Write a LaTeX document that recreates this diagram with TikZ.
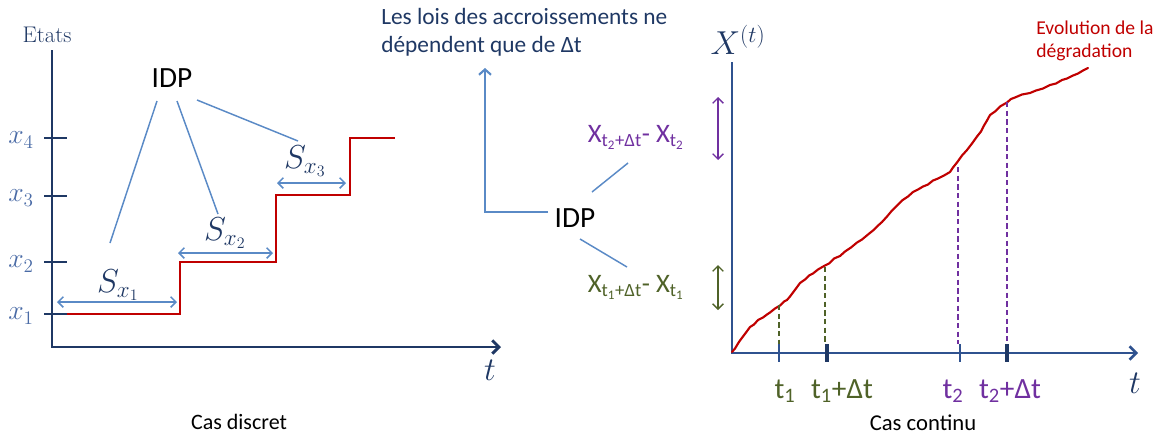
\documentclass[tikz,border=0pt]{standalone}
\usepackage[no-math]{fontspec}
\usepackage{amsmath}
\newfontfamily\cali{Carlito}
\usetikzlibrary{arrows.meta}
\definecolor{navy}{HTML}{1F3864}
\definecolor{axisb}{HTML}{2F528F}
\definecolor{lblue}{HTML}{5A8AC6}
\definecolor{xlab}{HTML}{4A6BA6}
\definecolor{dred}{HTML}{C00000}
\definecolor{purp}{HTML}{7030A0}
\definecolor{olive}{HTML}{4F6228}
\newcommand{\fsz}[1]{\fontsize{#1}{1.2\dimexpr #1pt\relax}\selectfont}
\tikzset{
  axarrow/.style={line width=2.2pt,-{Straight Barb[length=5pt,width=10pt]}},
  dblarrow/.style={lblue,line width=1.1pt,{Straight Barb[length=4pt,width=8pt]}-{Straight Barb[length=4pt,width=8pt]}},
  idpline/.style={lblue,line width=1.1pt},
  stepline/.style={dred,line width=2pt},
  dashv/.style={line width=1pt,dash pattern=on 4pt off 2.5pt},
  lbl/.style={inner sep=0pt}
}
\begin{document}
\begin{tikzpicture}[x=0.75pt,y=-0.75pt]
\useasboundingbox (0,0) rectangle (1168,437);

% ---------------- left: discrete case ----------------
\coordinate (lo) at (52,347);
\coordinate (ly) at (52,50);
\coordinate (lx) at (501,347);
\draw[navy,axarrow,line join=miter] (ly) -- (lo) -- (lx);
\node[lbl,navy] (etats) at (47,35) {\fsz{17}Etats};
\node[lbl,navy] (tl) at (490,370) {\fsz{23}$t$};

\foreach \yy/\nm/\k in {138/x4/4,196/x3/3,262/x2/2,314/x1/1}{
  \draw[navy,line width=2pt] (44,\yy) -- (67,\yy);
  \node[lbl,xlab] (\nm) at (21,\yy+2) {\fsz{19.5}$x_{\k}$};
}

\draw[stepline] (67,314) -- (180,314) -- (180,262) -- (276,262) -- (276,195) -- (350,195) -- (350,138) -- (395,138);

\node[lbl] (s1) at (118,285) {\fsz{25}\color{navy}$S_{x_1}$};
\node[lbl] (s2) at (225,233) {\fsz{25}\color{navy}$S_{x_2}$};
\node[lbl] (s3) at (305,161) {\fsz{25}\color{navy}$S_{x_3}$};
\coordinate (a1l) at (57,302);  \coordinate (a1r) at (177,302);
\coordinate (a2l) at (178,253); \coordinate (a2r) at (273,253);
\coordinate (a3l) at (277,183); \coordinate (a3r) at (346,183);
\draw[dblarrow] (a1l) -- (a1r);
\draw[dblarrow] (a2l) -- (a2r);
\draw[dblarrow] (a3l) -- (a3r);

\node[lbl] (idpl) at (172,78) {\cali\fsz{22}IDP};
\coordinate (c1) at (110,243);
\coordinate (c2) at (218,214);
\coordinate (c3) at (298,141);
\draw[idpline] (157,101) -- (c1);
\draw[idpline] (177,101) -- (c2);
\draw[idpline] (197,100) -- (c3);

\node[lbl] (casd) at (239,422) {\cali\fsz{16.5}Cas discret};

% ---------------- middle ----------------
\node[lbl,navy,anchor=west,align=left,font=\cali\fontsize{17.5}{21}\selectfont] (lois) at (381,32)
  {Les lois des accroissements ne\\dépendent que de Δt};
\node[lbl] (idpm) at (575,218) {\cali\fsz{22}IDP};
\coordinate (bend) at (485,212);
\coordinate (bstart) at (548,212);
\coordinate (btop) at (485,68);
\draw[lblue,line width=1.6pt,-{Straight Barb[length=4pt,width=9pt]}] (bstart) -- (bend) -- (btop);

\node[lbl,purp] (d2) at (636,137)
  {\cali\fsz{20}X$_{\text{t$_{\text{2}}$+Δt}}$- X$_{\text{t$_{\text{2}}$}}$};
\node[lbl,olive] (d1) at (636,287)
  {\cali\fsz{20}X$_{\text{t$_{\text{1}}$+Δt}}$- X$_{\text{t$_{\text{1}}$}}$};
\coordinate (u1) at (592,192); \coordinate (u2) at (628,163);
\coordinate (w1) at (580,239); \coordinate (w2) at (627,267);
\draw[idpline] (u1) -- (u2);
\draw[idpline] (w1) -- (w2);

% ---------------- right: continuous case ----------------
\coordinate (ro) at (732,353);
\coordinate (ry) at (732,62);
\coordinate (rx) at (1138,353);
\draw[axisb,axarrow,line width=1.9pt] (ry) -- (ro) -- (rx);
\node[lbl,navy] (xt) at (738,40) {\fsz{24}$X^{(t)}$};
\node[lbl,navy] (tr) at (1135,383) {\fsz{23}$t$};

\draw[axisb,line width=1.5pt] (779,344) -- (779,362);
\draw[navy,line width=3pt] (827,344) -- (827,362);
\draw[axisb,line width=1.5pt] (960,344) -- (960,362);
\draw[navy,line width=3pt] (1007,344) -- (1007,362);

\draw[dred,line width=1.6pt,line join=round,line cap=round] plot coordinates {
 (732,352) (735,348.5) (738,343.5) (740,340.5) (743,336.5) (746,332.5) (750,327) (754,324.5) (758,320)
 (763,317.5) (767,314.5) (770,312.5) (775,308.5) (780,305.5) (784,301.5) (787,300) (790,296.5)
 (793,292.5) (796,288.5) (800,283) (805,279.5) (809,275.5) (813,273.5) (818,269.5) (824,266)
 (829,263.5) (834,258.5) (840,256) (845,251.5) (851,247.5) (857,242.5) (862,239.5) (868,234.5)
 (873,230.5) (877,226.5) (882,222) (887,216.5) (892,210.5) (897,205.5) (902,200.5) (908,196.5)
 (913,192) (918,189.5) (923,186.5) (928,184.5) (933,180.5) (938,178.5) (944,175.5) (950,172)
 (953,167.5) (957,162.5) (962,155.5) (967,150) (972,143.5) (977,136.5) (981,131.5) (984,125.5)
 (987,120.5) (990,115) (995,111.5) (1000,106.5) (1007,102.5) (1011,99) (1015,97.5) (1022,94.5)
 (1030,93) (1036,90.5) (1043,88.5) (1050,85) (1056,83.5) (1062,80) (1067,78.5) (1073,75.5)
 (1078,73.5) (1083,70.5) (1088,68)};

\draw[olive,dashv] (779,305) -- (779,344);
\draw[olive,dashv] (825,267) -- (825,344);
\draw[purp,dashv] (958,167) -- (958,344);
\draw[purp,dashv] (1007,102) -- (1007,344);

\draw[purp,line width=1pt,{Straight Barb[length=4pt,width=8pt]}-{Straight Barb[length=4pt,width=8pt]}] (718,97) -- (718,160);
\draw[olive,line width=1pt,{Straight Barb[length=4pt,width=8pt]}-{Straight Barb[length=4pt,width=8pt]}] (718,265) -- (718,310);

\node[lbl,olive] (t1) at (785,391) {\cali\fsz{22}t$_{\text{1}}$};
\node[lbl,olive] (t1d) at (842,391) {\cali\fsz{22}t$_{\text{1}}$+Δt};
\node[lbl,purp] (t2) at (953,391) {\cali\fsz{22}t$_{\text{2}}$};
\node[lbl,purp] (t2d) at (1010,391) {\cali\fsz{22}t$_{\text{2}}$+Δt};

\node[lbl,dred,anchor=west,align=left,font=\cali\fontsize{14.7}{17}\selectfont] (evo) at (1036,41)
  {Evolution de la\\dégradation};
\node[lbl] (casc) at (923,423) {\cali\fsz{17}Cas continu};
\end{tikzpicture}
\end{document}
